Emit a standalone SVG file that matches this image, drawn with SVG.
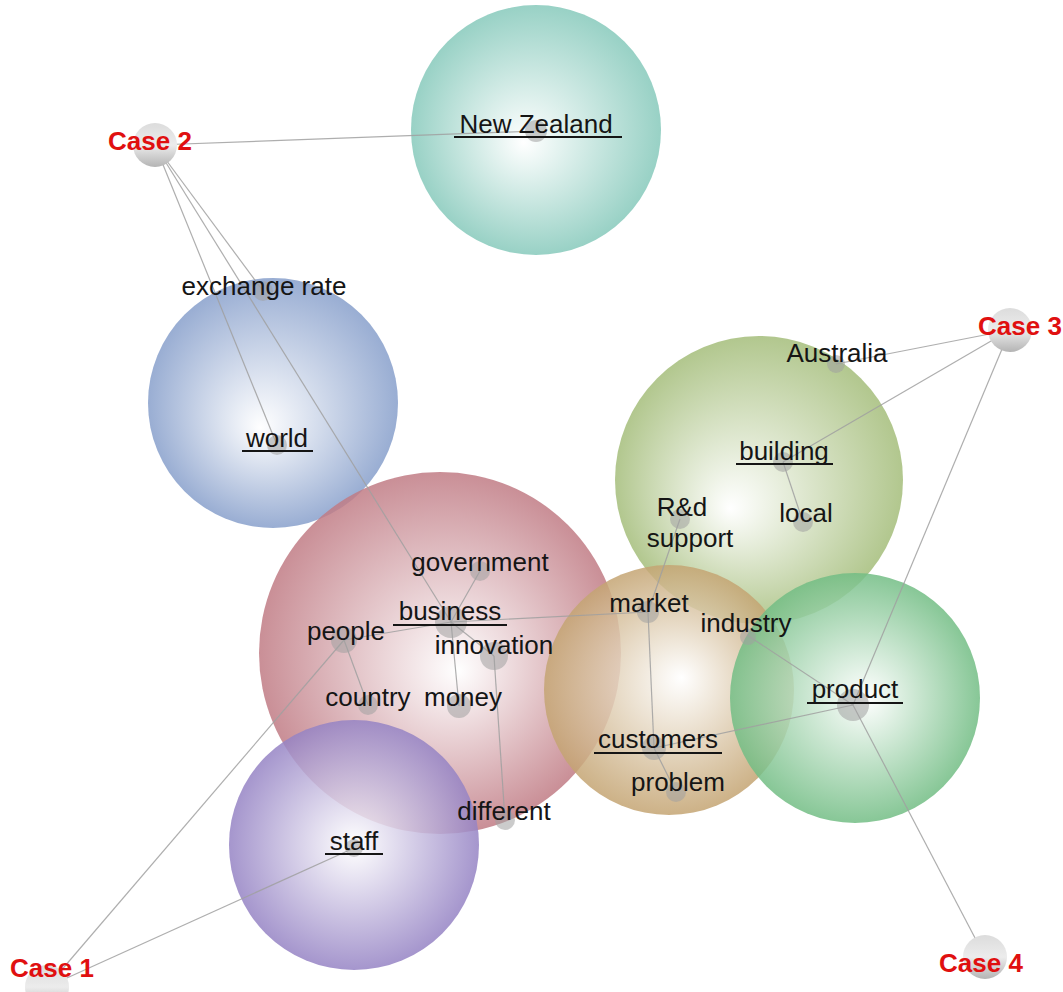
<svg xmlns="http://www.w3.org/2000/svg" width="1063" height="992" viewBox="0 0 1063 992">
<defs>
<radialGradient id="gTeal" cx="0.5" cy="0.5" r="0.5" fx="0.45" fy="0.55"><stop offset="0" stop-color="#ffffff"/><stop offset="1" stop-color="#86c9bb"/></radialGradient>
<radialGradient id="gBlue" cx="0.5" cy="0.5" r="0.5" fx="0.45" fy="0.6"><stop offset="0" stop-color="#ffffff"/><stop offset="1" stop-color="#879fcb"/></radialGradient>
<radialGradient id="gRed" cx="0.5" cy="0.5" r="0.5" fx="0.55" fy="0.55"><stop offset="0" stop-color="#ffffff"/><stop offset="1" stop-color="#c07b84"/></radialGradient>
<radialGradient id="gPurple" cx="0.5" cy="0.5" r="0.5" fx="0.5" fy="0.5"><stop offset="0" stop-color="#ffffff"/><stop offset="1" stop-color="#9583c4"/></radialGradient>
<radialGradient id="gOlive" cx="0.5" cy="0.5" r="0.5" fx="0.4" fy="0.6"><stop offset="0" stop-color="#ffffff"/><stop offset="1" stop-color="#a4bd7a"/></radialGradient>
<radialGradient id="gTan" cx="0.5" cy="0.5" r="0.5" fx="0.55" fy="0.45"><stop offset="0" stop-color="#ffffff"/><stop offset="1" stop-color="#c4a472"/></radialGradient>
<radialGradient id="gGreen" cx="0.5" cy="0.5" r="0.5" fx="0.55" fy="0.5"><stop offset="0" stop-color="#ffffff"/><stop offset="1" stop-color="#72bd84"/></radialGradient>
<linearGradient id="gCase" x1="0" y1="0" x2="0" y2="1"><stop offset="0" stop-color="#dcdcdc"/><stop offset="0.5" stop-color="#ececec"/><stop offset="1" stop-color="#b4b4b4"/></linearGradient>
</defs>
<style>
.theme{opacity:0.85}
.dot{fill:#a0a0a0;fill-opacity:0.55}
.case{fill:url(#gCase)}
.lbl{font-family:"Liberation Sans",Arial,sans-serif;font-size:26px;fill:#151515;text-anchor:middle}
.clbl{font-family:"Liberation Sans",Arial,sans-serif;font-size:26px;font-weight:bold;fill:#e01010;text-anchor:middle}
.ul{stroke:#151515;stroke-width:2}
#edges line{stroke:#a0a0a0;stroke-width:1.2;stroke-opacity:0.85}
</style>
<rect width="1063" height="992" fill="#ffffff"/>
<g id="themes">
<circle class="theme" cx="536" cy="130" r="125" fill="url(#gTeal)"/>
<circle class="theme" cx="273" cy="403" r="125" fill="url(#gBlue)"/>
<circle class="theme" cx="759" cy="480" r="144" fill="url(#gOlive)"/>
<circle class="theme" cx="440" cy="653" r="181" fill="url(#gRed)"/>
<circle class="theme" cx="354" cy="845" r="125" fill="url(#gPurple)"/>
<circle class="theme" cx="669" cy="690" r="125" fill="url(#gTan)"/>
<circle class="theme" cx="855" cy="698" r="125" fill="url(#gGreen)"/>
</g>
<g id="edges">
<line x1="155" y1="145" x2="536" y2="131"/>
<line x1="155" y1="145" x2="263" y2="291"/>
<line x1="155" y1="145" x2="277" y2="445"/>
<line x1="155" y1="145" x2="451" y2="622"/>
<line x1="1010" y1="330" x2="836" y2="364"/>
<line x1="1010" y1="330" x2="783" y2="462"/>
<line x1="1010" y1="330" x2="853" y2="705"/>
<line x1="783" y1="462" x2="803" y2="522"/>
<line x1="680" y1="519" x2="648" y2="612"/>
<line x1="451" y1="622" x2="648" y2="612"/>
<line x1="451" y1="622" x2="480" y2="571"/>
<line x1="451" y1="622" x2="344" y2="640"/>
<line x1="451" y1="622" x2="494" y2="656"/>
<line x1="451" y1="622" x2="459" y2="706"/>
<line x1="344" y1="640" x2="368" y2="705"/>
<line x1="344" y1="640" x2="47" y2="987"/>
<line x1="494" y1="656" x2="505" y2="820"/>
<line x1="648" y1="612" x2="654" y2="748"/>
<line x1="654" y1="748" x2="676" y2="792"/>
<line x1="654" y1="748" x2="853" y2="705"/>
<line x1="747" y1="635" x2="853" y2="705"/>
<line x1="354" y1="848" x2="47" y2="987"/>
<line x1="853" y1="705" x2="985" y2="957"/>
</g>
<g id="n-case2"><circle class="case" cx="155" cy="145" r="22"/><text class="clbl" x="150" y="150">Case 2</text></g>
<g id="n-case3"><circle class="case" cx="1010" cy="330" r="22"/><text class="clbl" x="1020" y="335">Case 3</text></g>
<g id="n-case1"><circle class="case" cx="47" cy="987" r="22"/><text class="clbl" x="52" y="977">Case 1</text></g>
<g id="n-case4"><circle class="case" cx="985" cy="957" r="22"/><text class="clbl" x="981" y="972">Case 4</text></g>
<g id="n-newzealand"><circle class="dot" cx="536" cy="131" r="11"/><text class="lbl" x="536" y="133">New Zealand</text><line class="ul" x1="454" y1="137" x2="622" y2="137"/></g>
<g id="n-exchangerate"><circle class="dot" cx="263" cy="291" r="10"/><text class="lbl" x="264" y="295">exchange rate</text></g>
<g id="n-world"><circle class="dot" cx="277" cy="445" r="10"/><text class="lbl" x="277" y="447">world</text><line class="ul" x1="242" y1="451" x2="313" y2="451"/></g>
<g id="n-australia"><circle class="dot" cx="836" cy="364" r="9"/><text class="lbl" x="837" y="362">Australia</text></g>
<g id="n-building"><circle class="dot" cx="783" cy="462" r="10"/><text class="lbl" x="784" y="460">building</text><line class="ul" x1="736" y1="464" x2="833" y2="464"/></g>
<g id="n-local"><circle class="dot" cx="803" cy="522" r="10"/><text class="lbl" x="806" y="522">local</text></g>
<g id="n-rdsupport"><circle class="dot" cx="680" cy="519" r="10"/><text class="lbl" x="682" y="516">R&amp;d</text><text class="lbl" x="690" y="547">support</text></g>
<g id="n-government"><circle class="dot" cx="480" cy="571" r="10"/><text class="lbl" x="480" y="571">government</text></g>
<g id="n-business"><circle class="dot" cx="451" cy="622" r="16"/><text class="lbl" x="450" y="620">business</text><line class="ul" x1="393" y1="625" x2="507" y2="625"/></g>
<g id="n-people"><circle class="dot" cx="344" cy="640" r="13"/><text class="lbl" x="346" y="640">people</text></g>
<g id="n-innovation"><circle class="dot" cx="494" cy="656" r="14"/><text class="lbl" x="494" y="654">innovation</text></g>
<g id="n-country"><circle class="dot" cx="368" cy="705" r="10"/><text class="lbl" x="368" y="706">country</text></g>
<g id="n-money"><circle class="dot" cx="459" cy="706" r="12"/><text class="lbl" x="463" y="706">money</text></g>
<g id="n-different"><circle class="dot" cx="505" cy="820" r="10"/><text class="lbl" x="504" y="820">different</text></g>
<g id="n-market"><circle class="dot" cx="648" cy="612" r="11"/><text class="lbl" x="649" y="612">market</text></g>
<g id="n-industry"><circle class="dot" cx="748" cy="637" r="8"/><text class="lbl" x="746" y="632">industry</text></g>
<g id="n-product"><circle class="dot" cx="853" cy="705" r="16"/><text class="lbl" x="855" y="698">product</text><line class="ul" x1="807" y1="703" x2="903" y2="703"/></g>
<g id="n-customers"><circle class="dot" cx="654" cy="748" r="12"/><text class="lbl" x="658" y="748">customers</text><line class="ul" x1="594" y1="753" x2="722" y2="753"/></g>
<g id="n-problem"><circle class="dot" cx="676" cy="792" r="10"/><text class="lbl" x="678" y="791">problem</text></g>
<g id="n-staff"><circle class="dot" cx="354" cy="848" r="9"/><text class="lbl" x="354" y="850">staff</text><line class="ul" x1="325" y1="854" x2="383" y2="854"/></g>
</svg>
